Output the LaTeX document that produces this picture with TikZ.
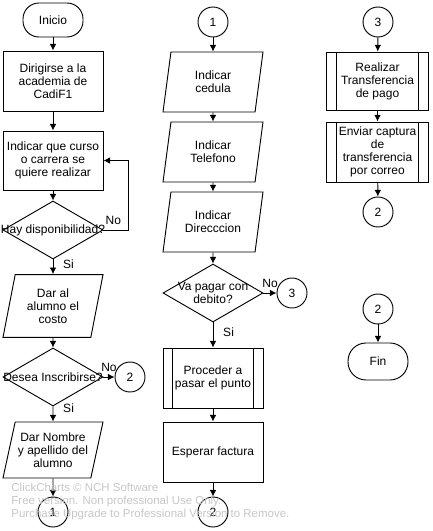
\documentclass[tikz,border=0pt]{standalone}
\usepackage{fontspec}
\setmainfont{Liberation Sans}
\usetikzlibrary{shapes.geometric, arrows.meta}

\begin{document}
\begin{tikzpicture}[
        x=0.75pt, y=-0.75pt, line width=0.7pt,
        every node/.style={font=\fontsize{9}{9.75}\selectfont, align=center},
        terminal/.style={draw, rectangle, rounded corners=12pt, minimum width=45pt, minimum height=25.5pt},
        process/.style={draw, rectangle, minimum width=75pt, minimum height=45pt, inner sep=2pt},
        io/.style={draw, trapezium, trapezium left angle=72, trapezium right angle=108,
            trapezium stretches body, minimum width=75pt, minimum height=45pt, inner sep=1pt},
        subproc/.style={process, path picture={
            \draw ([xshift=7pt]path picture bounding box.north west) -- ([xshift=7pt]path picture bounding box.south west);
            \draw ([xshift=-7pt]path picture bounding box.north east) -- ([xshift=-7pt]path picture bounding box.south east);}},
        decision/.style={draw, diamond, minimum width=75pt, minimum height=43.5pt, inner sep=0pt},
        connector/.style={draw, circle, minimum size=22.5pt, inner sep=0pt},
        line/.style={draw, -{Latex[length=5pt,width=5pt]}},
        yes/.style={right, xshift=4pt}
      ]
      \useasboundingbox (0,0) rectangle (432,531);

      \node[terminal] (inicio) at (53,20) {Inicio};
      \node[process] (dirigirse) at (53,81) {Dirigirse a la\\academia de\\CadiF1};
      \node[process, minimum height=44.25pt] (curso) at (53,160.5) {Indicar que curso\\o carrera se\\quiere realizar};
      \node[decision, label={center:Hay disponibilidad?}] (hay) at (53,230) {};
      \node[io, minimum height=47pt] (costo) at (53,306) {Dar al\\alumno el\\costo};
      \node[decision, label={center:Desea Inscribirse?}] (desea) at (53,377) {};
      \node[connector] (dosA) at (130,377) {2};
      \node[io, minimum height=42pt] (nombre) at (53,450) {Dar Nombre\\y apellido del\\alumno};
      \node[connector] (unoA) at (53,512) {1};

      \node[connector] (unoB) at (213,22) {1};
      \node[io] (cedula) at (213,82) {Indicar\\cedula};
      \node[io] (telefono) at (213,152) {Indicar\\Telefono};
      \node[io] (direccion) at (213,222) {Indicar\\Direcccion};
      \node[decision, label={[align=center]center:Va pagar con\\debito?}] (debito) at (213,293) {};
      \node[connector] (tresA) at (292,293) {3};
      \node[subproc] (punto) at (213,378) {Proceder a\\pasar el punto};
      \node[process] (factura) at (213,452) {Esperar factura};
      \node[connector] (dosB) at (213,512) {2};

      \node[connector] (tresB) at (378,22) {3};
      \node[subproc, minimum width=76pt, minimum height=43.5pt] (transferencia) at (377.5,81) {Realizar\\Transferencia\\de pago};
      \node[subproc, minimum width=76pt] (captura) at (377.5,152) {Enviar captura\\de\\transferencia\\por correo};
      \node[connector] (dosC) at (378,212) {2};
      \node[connector] (dosD) at (378,309) {2};
      \node[terminal, minimum height=27.75pt, rounded corners=13.5pt] (fin) at (378,361.5) {Fin};

      \path[line] (inicio) -- (dirigirse);
      \path[line] (dirigirse) -- (curso);
      \path[line] (curso) -- (hay);
      \path[line] (hay.east) -- node[above, xshift=-2pt] {No} ++(25,0) |- (curso.east);
      \path[line] (hay) -- node[yes, pos=0.35] {Si} (costo);
      \path[line] (costo) -- (desea);
      \path[line] (desea) -- node[above] {No} (dosA);
      \path[line] (desea) -- node[yes, pos=0.1] {Si} (nombre);
      \path[line] (nombre) -- (unoA);

      \path[line] (unoB) -- (cedula);
      \path[line] (cedula) -- (telefono);
      \path[line] (telefono) -- (direccion);
      \path[line] (direccion) -- (debito);
      \path[line] (debito) -- node[above] {No} (tresA);
      \path[line] (debito) -- node[yes, pos=0.4] {Si} (punto);
      \path[line] (punto) -- (factura);
      \path[line] (factura) -- (dosB);

      \path[line] (tresB) -- (transferencia);
      \path[line] (transferencia) -- (captura);
      \path[line] (captura) -- (dosC);
      \path[line] (dosD) -- (fin);

      \node[anchor=north west, inner sep=0pt, align=left, text=black!22,
          font=\fontsize{8.6}{9.6}\selectfont] (marca) at (11,483)
          {ClickCharts \textcopyright{} NCH Software\\Free version. Non professional Use Only.\\Purchase Upgrade to Professional Version to Remove.};
      \end{tikzpicture}
\end{document}
